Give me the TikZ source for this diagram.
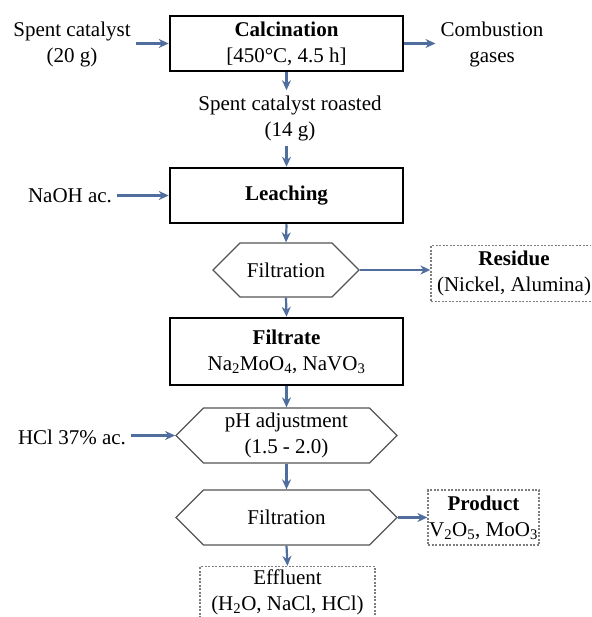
\documentclass[tikz,border=0pt]{standalone}
\usepackage{fontspec}
\setmainfont{Liberation Serif}
\usetikzlibrary{arrows.meta,shapes.symbols}
\definecolor{flowblue}{RGB}{79,110,158}
\definecolor{hexgray}{RGB}{85,85,85}
\definecolor{dotgray}{RGB}{125,125,125}

\begin{document}
\begin{tikzpicture}[x=1pt,y=-1pt,font=\fontsize{21}{26}\selectfont,
 stage/.style={draw,line width=2.5pt,minimum width=233pt,minimum height=55pt,align=center,inner sep=0pt},
 sep/.style={signal,signal to=west and east,signal pointer angle=90,draw=hexgray,line width=1.3pt,minimum width=146pt,minimum height=54pt,align=center,inner sep=0pt},
 outbox/.style={draw=dotgray,dash pattern=on 2pt off 1.5pt,line width=1.3pt,align=center,inner sep=0pt},
 txt/.style={align=center,inner sep=5pt},
 flow/.style={draw=flowblue,line width=2.2pt,-{Stealth[length=10pt,width=9pt]}}]
\clip (0,0) rectangle (591,617);
\node[stage] (calc) at (286.5,43.5) {\textbf{Calcination}\\{[450°C, 4.5 h]}};
\node[txt] (feed) at (72,44.5) {Spent catalyst\\(20 g)};
\node[txt] (gas) at (492,44.5) {Combustion\\gases};
\node[txt] (roast) at (290,118) {Spent catalyst roasted\\(14 g)};
\node[stage] (leach) at (286.5,195.5) {\textbf{Leaching}};
\node[txt] (naoh) at (70,196) {NaOH ac.};
\node[sep] (filt1) at (286,270) {Filtration};
\node[outbox,minimum width=166pt,minimum height=56pt] (res) at (514,273.5) {\textbf{Residue}\\(Nickel, Alumina)};
\node[stage,minimum height=67pt] (filtrate) at (286.5,351.5) {\textbf{Filtrate}\\Na\textsubscript{2}MoO\textsubscript{4}, NaVO\textsubscript{3}};
\node[sep,minimum width=221pt,minimum height=55pt] (ph) at (286.5,435.5) {pH adjustment\\(1.5 - 2.0)};
\node[txt] (hcl) at (72,437) {HCl 37\% ac.};
\node[sep,minimum width=221pt,minimum height=55pt] (filt2) at (286.5,517.5) {Filtration};
\node[outbox,minimum width=111pt,minimum height=55pt] (prod) at (483.5,517.5) {\textbf{Product}\\V\textsubscript{2}O\textsubscript{5}, MoO\textsubscript{3}};
\node[outbox,minimum width=175pt,minimum height=52pt] (eff) at (287.5,592.5) {Effluent\\(H\textsubscript{2}O, NaCl, HCl)};
\draw[flow] (feed.east|-calc) -- (calc.west);
\draw[flow] (calc.east) -- (gas.west|-calc);
\draw[flow] (calc.south) -- (calc.south|-roast.north);
\draw[flow] (roast.south-|leach.north) -- (leach.north);
\draw[flow] (naoh.east|-leach) -- (leach.west);
\draw[flow] (hcl.east|-ph) -- (ph.west);
\foreach \a/\b in {filt1/res,filt2/prod}{\draw[flow] (\a.east) -- (\a.east-|\b.west);}
\foreach \a/\b in {leach/filt1,filt1/filtrate,filtrate/ph,ph/filt2,filt2/eff}{\draw[flow] (\a.south) -- (\b.north);}
\end{tikzpicture}
\end{document}
